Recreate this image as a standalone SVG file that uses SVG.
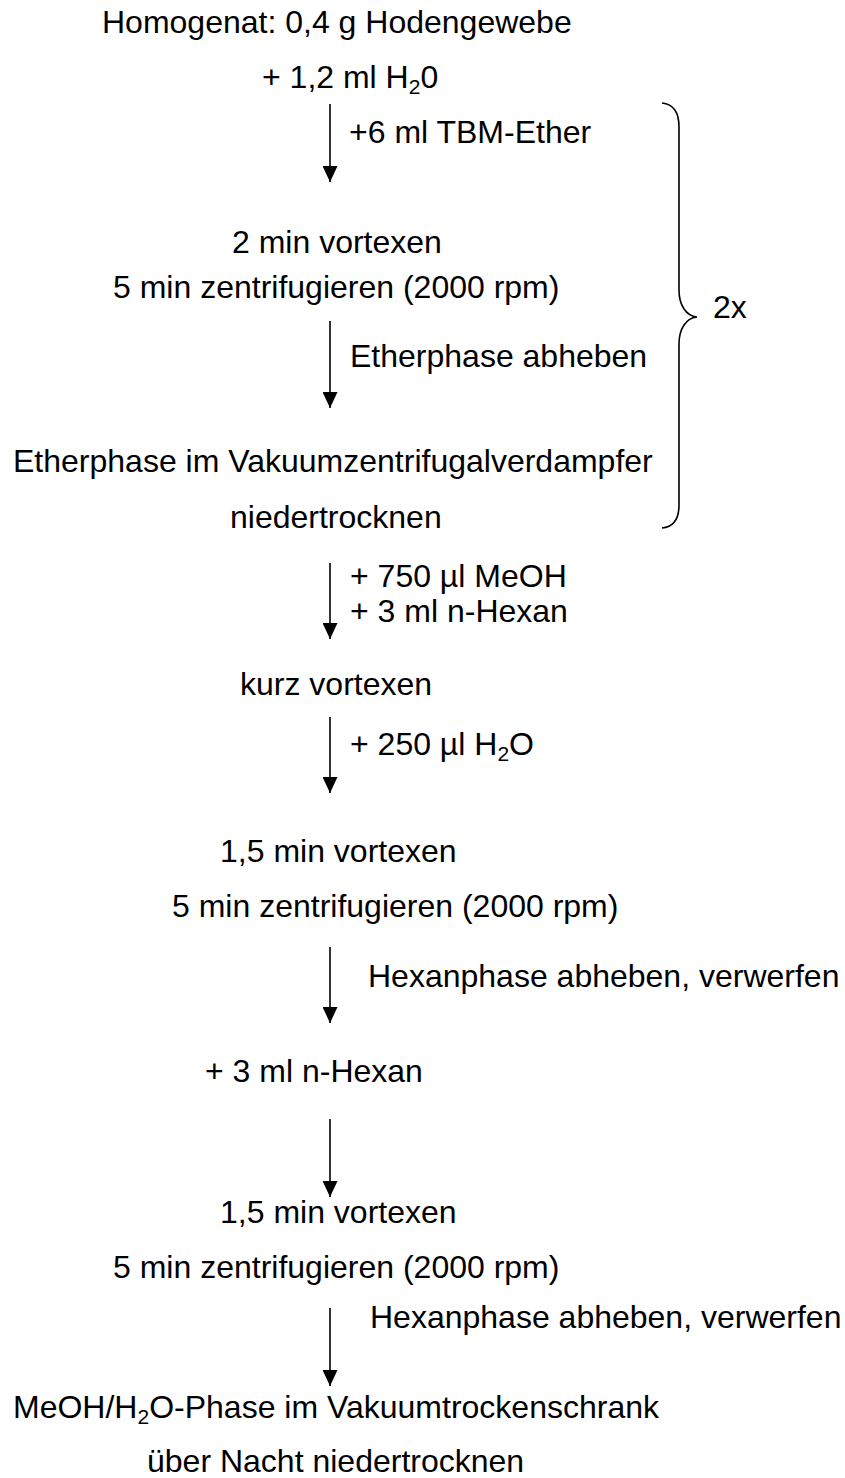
<svg xmlns="http://www.w3.org/2000/svg" width="845" height="1478" viewBox="0 0 845 1478">
<style>
text{font-family:"Liberation Sans",Arial,sans-serif;font-size:32px;fill:#000}
.sub{font-size:21px}
.conn{stroke:#000;stroke-width:1.6;fill:none}
</style>
<defs>
<marker id="ah" markerUnits="userSpaceOnUse" markerWidth="16" markerHeight="15" refX="16" refY="7.5" orient="auto">
<path d="M0,0 L16,7.5 L0,15 z" fill="#000"/>
</marker>
</defs>
<rect width="845" height="1478" fill="#fff"/>
<g id="connectors">
<line class="conn" x1="330" y1="104" x2="330" y2="182" marker-end="url(#ah)"/>
<line class="conn" x1="330" y1="321" x2="330" y2="408" marker-end="url(#ah)"/>
<line class="conn" x1="330" y1="563" x2="330" y2="639" marker-end="url(#ah)"/>
<line class="conn" x1="330" y1="717" x2="330" y2="793" marker-end="url(#ah)"/>
<line class="conn" x1="330" y1="947" x2="330" y2="1023" marker-end="url(#ah)"/>
<line class="conn" x1="330" y1="1119" x2="330" y2="1197" marker-end="url(#ah)"/>
<line class="conn" x1="330" y1="1308" x2="330" y2="1386" marker-end="url(#ah)"/>
<path id="brace" class="conn" d="M662,103 C673,104 679,112 679,127 L679,290 C679,305 686,316 697,317 C686,318 679,329 679,344 L679,505 C679,520 673,527 662,528"/>
</g>
<g id="n1"><text x="102" y="33">Homogenat: 0,4 g Hodengewebe</text></g>
<g id="n2"><text x="262" y="88">+ 1,2 ml H<tspan class="sub" dy="6">2</tspan><tspan dy="-6">0</tspan></text></g>
<g id="l1"><text x="349" y="143">+6 ml TBM-Ether</text></g>
<g id="n3"><text x="232" y="253">2 min vortexen</text><text x="113" y="298">5 min zentrifugieren (2000 rpm)</text></g>
<g id="rep"><text x="713" y="318">2x</text></g>
<g id="l2"><text x="350" y="367">Etherphase abheben</text></g>
<g id="n4"><text x="13" y="472">Etherphase im Vakuumzentrifugalverdampfer</text><text x="230" y="528">niedertrocknen</text></g>
<g id="l3"><text x="350" y="587">+ 750 µl MeOH</text><text x="350" y="622">+ 3 ml n-Hexan</text></g>
<g id="n5"><text x="240" y="695">kurz vortexen</text></g>
<g id="l4"><text x="350" y="755">+ 250 µl H<tspan class="sub" dy="6">2</tspan><tspan dy="-6">O</tspan></text></g>
<g id="n6"><text x="220" y="862">1,5 min vortexen</text><text x="172" y="917">5 min zentrifugieren (2000 rpm)</text></g>
<g id="l5"><text x="368" y="987">Hexanphase abheben, verwerfen</text></g>
<g id="n7"><text x="205" y="1082">+ 3 ml n-Hexan</text></g>
<g id="n8"><text x="220" y="1223">1,5 min vortexen</text><text x="113" y="1278">5 min zentrifugieren (2000 rpm)</text></g>
<g id="l7"><text x="370" y="1328">Hexanphase abheben, verwerfen</text></g>
<g id="n9"><text x="13" y="1418">MeOH/H<tspan class="sub" dy="6">2</tspan><tspan dy="-6">O-Phase im Vakuumtrockenschrank</tspan></text><text x="147" y="1472">über Nacht niedertrocknen</text></g>
</svg>
